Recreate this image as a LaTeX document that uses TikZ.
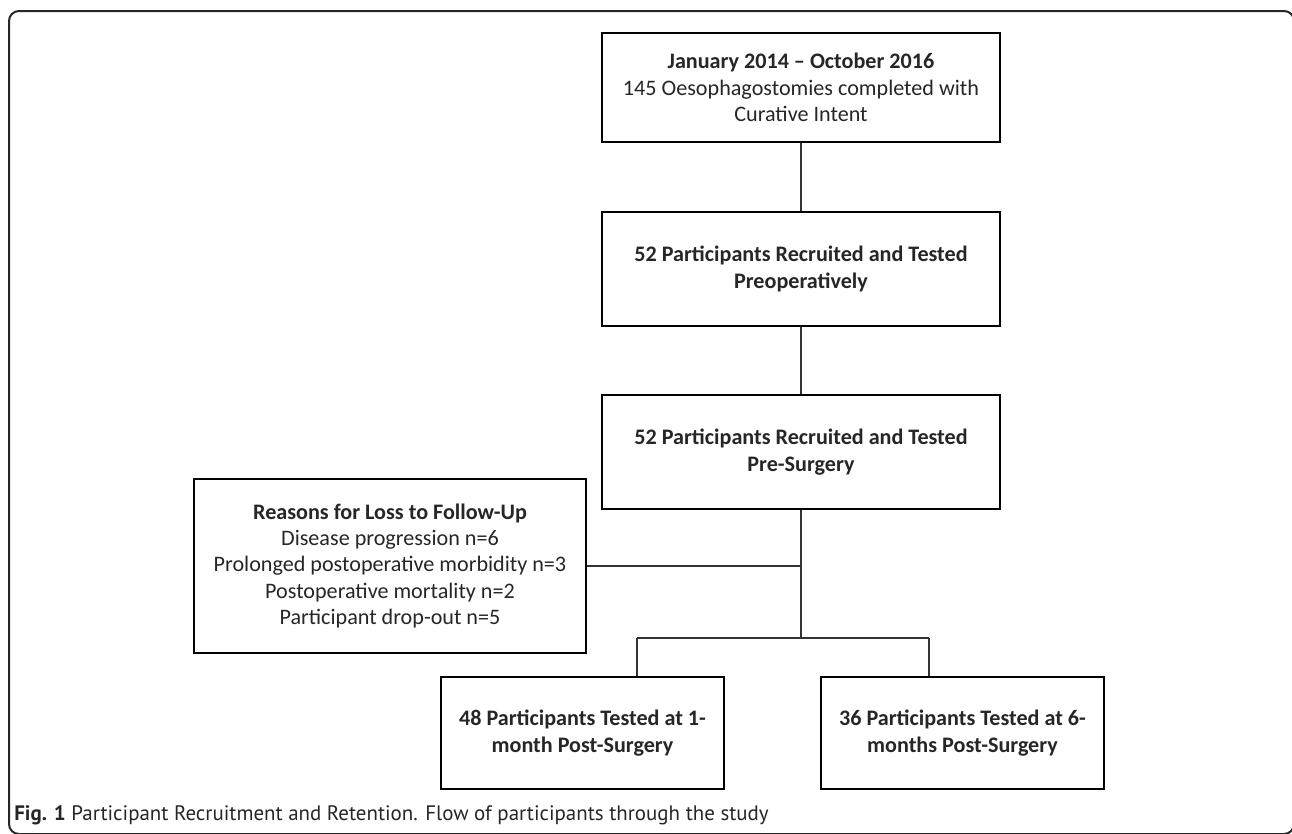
\documentclass[tikz,border=0pt]{standalone}
\usepackage{fontspec}
\setmainfont{Carlito}
\newfontfamily\capfont{PT Sans}
\begin{document}
\begin{tikzpicture}[x=0.75pt,y=-0.75pt,
  box/.style={draw=black, line width=1.6pt, align=center, inner sep=0pt,
    font=\fontsize{16.6pt}{19.8pt}\selectfont, text=black!85},
  conn/.style={draw=black!80, line width=1pt},
  frame/.style={draw=black!85, line width=1.5pt, rounded corners=7.5pt}]
\useasboundingbox (0,0) rectangle (1292,833);
\begin{scope}
\clip (0,0) rectangle (1292,833);
\draw[frame] (9,11) rectangle (1294,834);
\end{scope}
\node[box, minimum width=298.5pt, minimum height=81.75pt] (b1) at (801,87.5)
  {\textbf{January 2014 -- October 2016}\\145 Oesophagostomies completed with\\Curative Intent};
\node[box, minimum width=298.5pt, minimum height=85.5pt] (b2) at (801,269)
  {\textbf{52 Participants Recruited and Tested}\\\textbf{Preoperatively}};
\node[box, minimum width=298.5pt, minimum height=85.5pt] (b3) at (801,452)
  {\textbf{52 Participants Recruited and Tested}\\\textbf{Pre-Surgery}};
\node[box, minimum width=294pt, minimum height=130.5pt] (r) at (390,566)
  {\textbf{Reasons for Loss to Follow-Up}\\Disease progression n=6\\Prolonged postoperative morbidity n=3\\Postoperative mortality n=2\\Participant drop-out n=5};
\node[box, minimum width=212.25pt, minimum height=84pt] (b4) at (582.5,733)
  {\textbf{48 Participants Tested at 1-}\\\textbf{month Post-Surgery}};
\node[box, minimum width=212.25pt, minimum height=84pt] (b5) at (962.5,733)
  {\textbf{36 Participants Tested at 6-}\\\textbf{months Post-Surgery}};
\coordinate (jt) at (801,638);
\coordinate (jl) at (637,638);
\coordinate (jr) at (929,638);
\draw[conn] (b1) -- (b2);
\draw[conn] (b2) -- (b3);
\draw[conn] (b3) -- (jt);
\draw[conn] (r.east) -- (r.east -| jt);
\draw[conn] (jl) -- (jr);
\draw[conn] (jl) -- (jl |- b4.north);
\draw[conn] (jr) -- (jr |- b5.north);
\node[anchor=west, inner sep=0pt, font=\capfont\fontsize{15.7pt}{18pt}\selectfont, text=black!85] (cap) at (14,815)
  {\textbf{Fig. 1} Participant Recruitment and Retention. Flow of participants through the study};
\end{tikzpicture}
\end{document}
